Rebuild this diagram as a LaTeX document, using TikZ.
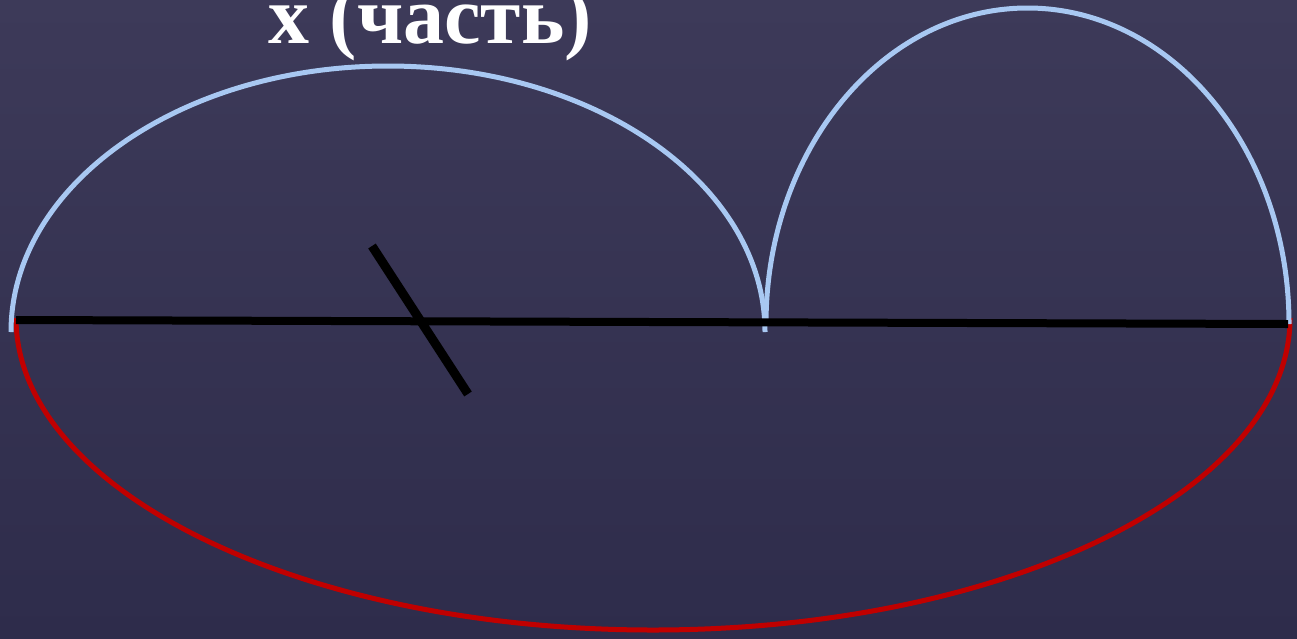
\documentclass[tikz,border=0pt]{standalone}
\usepackage{fontspec}
\setmainfont{Liberation Serif}
\definecolor{bgtop}{HTML}{3D3A59}
\definecolor{bgbot}{HTML}{2E2C4B}
\definecolor{arcblue}{HTML}{A8C8F2}
\definecolor{arcred}{HTML}{C00000}
\tikzset{
  bluearc/.style={draw=arcblue,line width=5pt},
  redarc/.style={draw=arcred,line width=5pt},
  blackline/.style={draw=black,line width=8pt},
  label/.style={text=white,font=\bfseries\fontsize{82}{82}\selectfont,inner sep=0pt}
}
\begin{document}
\begin{tikzpicture}[x=1pt,y=-1pt]
\useasboundingbox (0,0) rectangle (1297,638);
\shade[top color=bgtop,bottom color=bgbot] (0,0) rectangle (1297,638);
% red lower arc
\draw[redarc] (16,318) arc[start angle=180,end angle=0,x radius=637,y radius=312];
% blue arcs
\draw[bluearc] (11,332) arc[start angle=180,end angle=360,x radius=377,y radius=266];
\draw[bluearc] (766,324) arc[start angle=180,end angle=360,x radius=261.5,y radius=316];
% horizontal line
\coordinate (L) at (16,320);
\coordinate (R) at (1288,324);
\draw[blackline] (L) -- (R);
% slash
\coordinate (S1) at (372,246);
\coordinate (S2) at (468,394);
\draw[draw=black,line width=9pt] (S1) -- (S2);
\node[label,anchor=base] (t) at (430,43) {х (часть)};
\end{tikzpicture}
\end{document}
